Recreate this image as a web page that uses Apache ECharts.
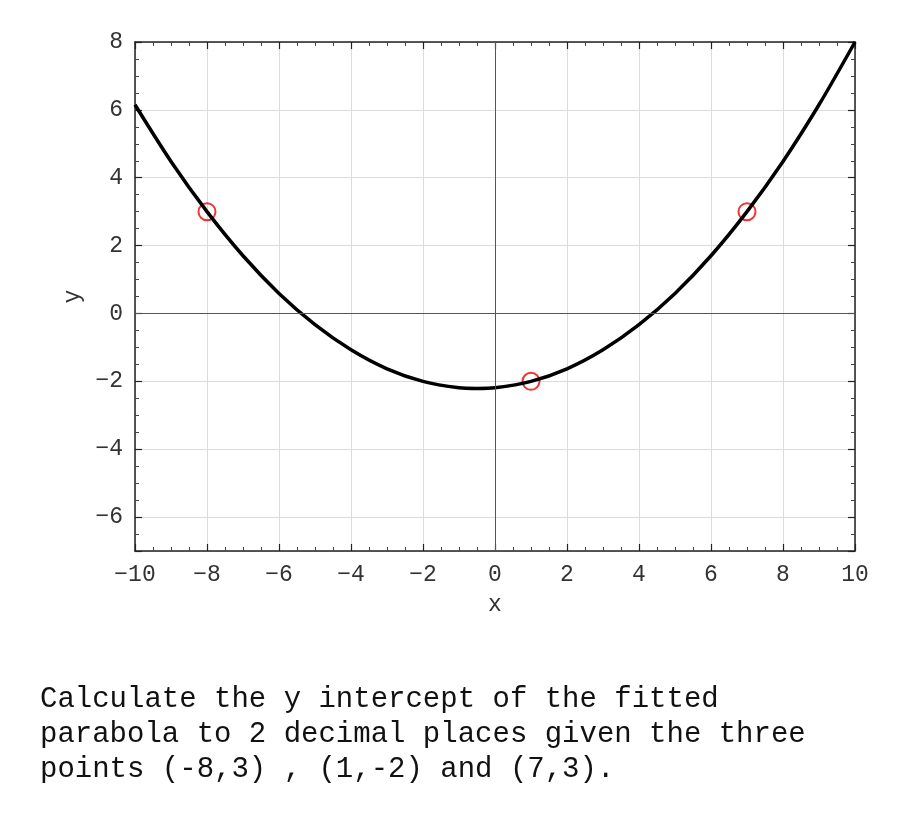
<!DOCTYPE html>
<html>
<head>
<meta charset="utf-8">
<script src="https://cdn.jsdelivr.net/npm/echarts@6/dist/echarts.min.js"></script>
<style>
html,body{margin:0;padding:0;background:#fff;}
#chart{width:900px;height:825px;}
</style>
</head>
<body>
<div id="chart"></div>
<script>
// Curve values (x, y)
var curveX = [-10, -9, -8, -7, -6, -5, -4, -3, -2, -1, -0.5, 0, 1, 2, 3, 4, 5, 6, 7, 8, 9, 10];
var curveY = [6.15, 4.48, 3.00, 1.70, 0.59, -0.33, -1.07, -1.63, -2.00, -2.19, -2.21, -2.19, -2.00, -1.63, -1.07, -0.33, 0.59, 1.70, 3.00, 4.48, 6.15, 8.00];
// Given points
var pointsX = [-8, 1, 7];
var pointsY = [3, -2, 3];
var xRange = [-10, 10];
var yRange = [-7, 8];
var xLabel = 'x';
var yLabel = 'y';
var question = 'Calculate the y intercept of the fitted\nparabola to 2 decimal places given the three\npoints (-8,3) , (1,-2) and (7,3).';

var FONT = '"Liberation Mono", "Courier New", monospace';
function fmt(v) { return v < 0 ? '\u2212' + Math.abs(v) : String(v); }

var curveData = curveX.map(function (x, i) { return [x, curveY[i]]; });
var pointData = pointsX.map(function (x, i) { return [x, pointsY[i]]; });

var axisLine = { show: true, onZero: false, lineStyle: { color: '#222', width: 1.5 } };
var tick = { show: true, inside: true, length: 7, lineStyle: { color: '#222', width: 1.2 } };
var minor = { show: true, splitNumber: 4, length: 4, lineStyle: { color: '#444', width: 1 } };
var split = { show: true, lineStyle: { color: '#dcdcdc', width: 1 } };
var lab = { fontFamily: FONT, fontSize: 23, color: '#333', margin: 12, formatter: fmt };

var chart = echarts.init(document.getElementById('chart'));
chart.setOption({
  animation: false,
  backgroundColor: '#fff',
  grid: { left: 135, right: 45, top: 42, bottom: 274, containLabel: false },
  xAxis: [
    { type: 'value', min: xRange[0], max: xRange[1], interval: 2, position: 'bottom',
      axisLine: axisLine, axisTick: tick, minorTick: minor, splitLine: split,
      axisLabel: lab, name: xLabel, nameLocation: 'middle', nameGap: 42,
      nameTextStyle: { fontFamily: FONT, fontSize: 23, color: '#333' } },
    { type: 'value', min: xRange[0], max: xRange[1], interval: 2, position: 'top',
      axisLine: axisLine, axisTick: tick, minorTick: minor, splitLine: { show: false },
      axisLabel: { show: false } }
  ],
  yAxis: [
    { type: 'value', min: yRange[0], max: yRange[1], splitNumber: 7, position: 'left',
      axisLine: axisLine, axisTick: tick, minorTick: minor, splitLine: split,
      axisLabel: Object.assign({ showMinLabel: false }, lab), name: yLabel, nameLocation: 'middle', nameGap: 39,
      nameTextStyle: { fontFamily: FONT, fontSize: 23, color: '#333' } },
    { type: 'value', min: yRange[0], max: yRange[1], splitNumber: 7, position: 'right',
      axisLine: axisLine, axisTick: tick, minorTick: minor, splitLine: { show: false },
      axisLabel: { show: false } }
  ],
  series: [
    { type: 'scatter', data: pointData, symbol: 'circle', symbolSize: 17, xAxisIndex: 0, yAxisIndex: 0,
      itemStyle: { color: 'rgba(0,0,0,0)', borderColor: '#ee0000', borderWidth: 2 }, z: 2 },
    { type: 'line', data: curveData, smooth: 0.3, showSymbol: false, xAxisIndex: 0, yAxisIndex: 0,
      lineStyle: { color: '#000', width: 3.5 }, z: 3,
      markLine: { silent: true, symbol: 'none', label: { show: false },
        lineStyle: { color: '#555', width: 1, type: 'solid' },
        data: [{ xAxis: 0 }, { yAxis: 0 }] } }
  ],
  graphic: [
    { type: 'text', left: 40, top: 682,
      style: { text: question, fontFamily: FONT, fontSize: 29, lineHeight: 35, fill: '#111' } }
  ]
});
</script>
</body>
</html>
